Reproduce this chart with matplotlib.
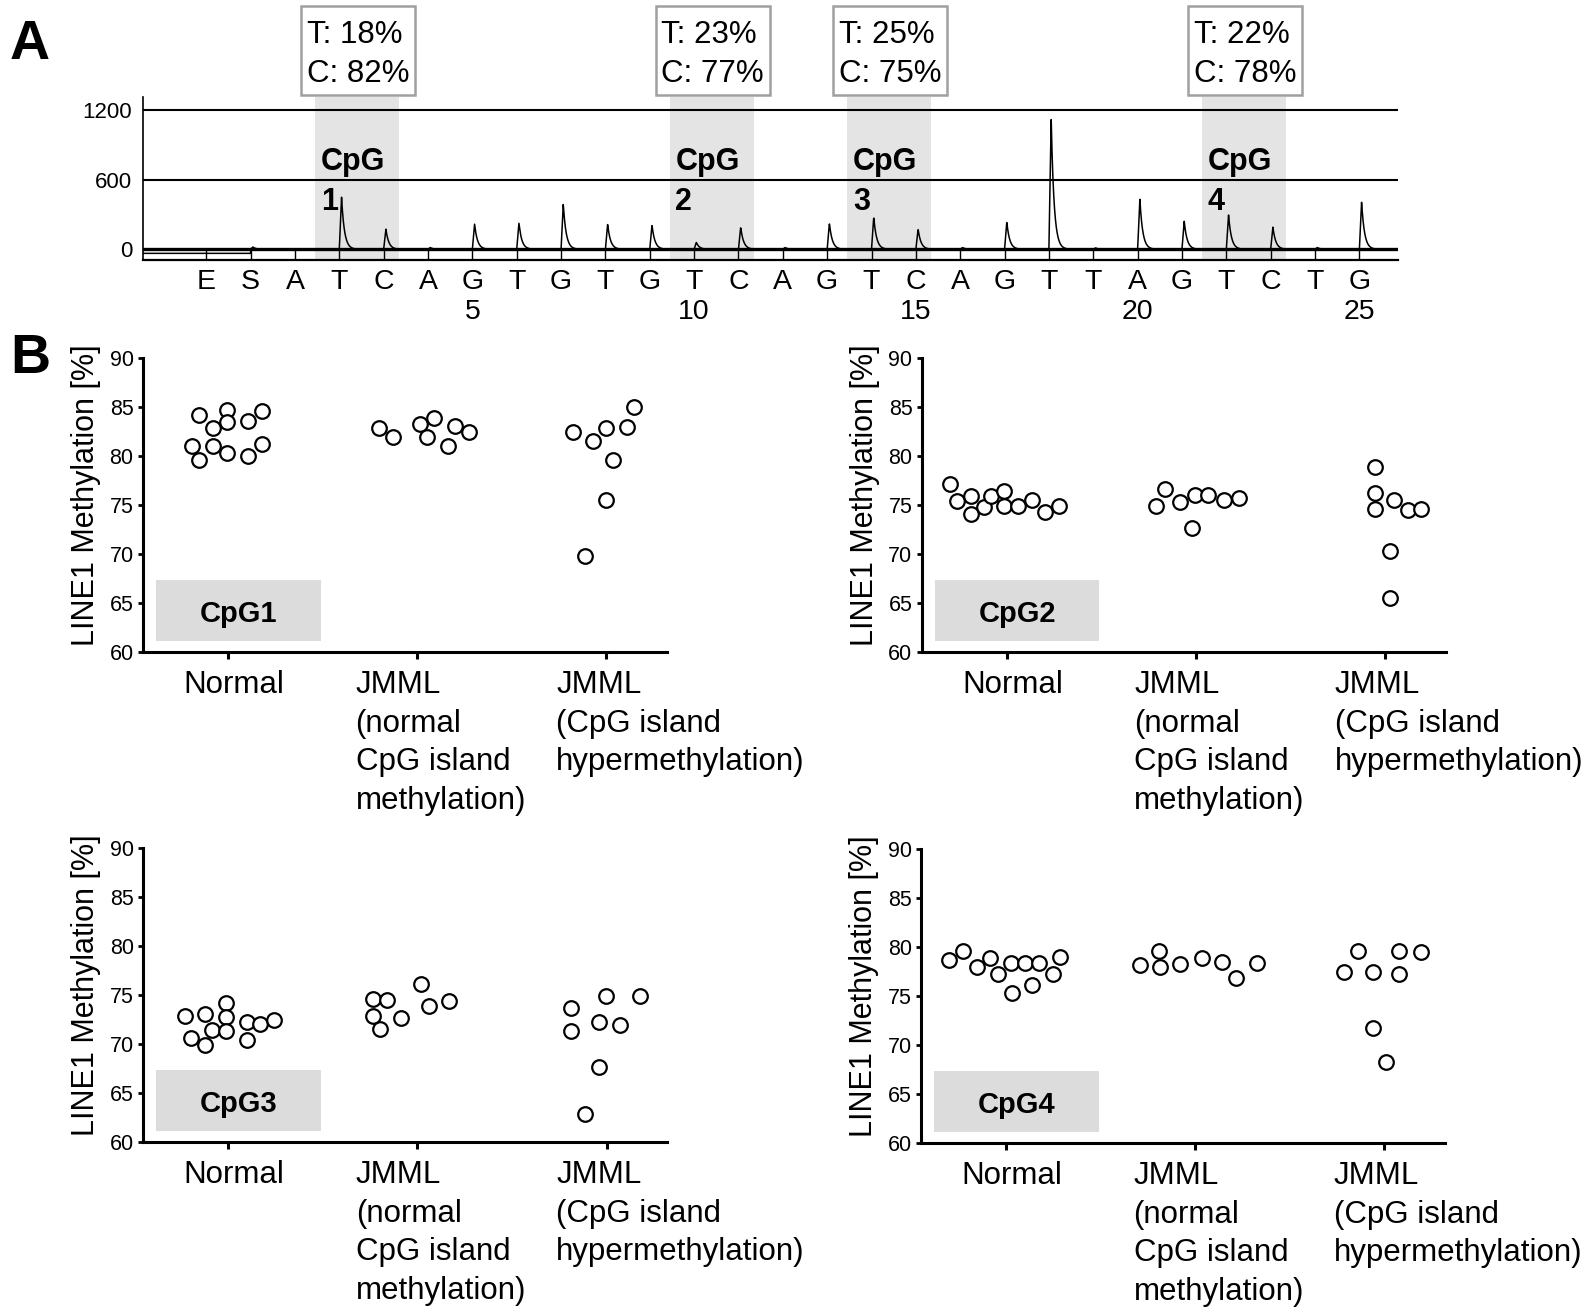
import numpy as np
import matplotlib
matplotlib.use('Agg')
import matplotlib.pyplot as plt
import matplotlib.transforms as mtransforms
from matplotlib.patches import Rectangle

plt.rcParams['font.family'] = ['Liberation Sans', 'DejaVu Sans']

# --- Panel A: pyrogram -------------------------------------------------
dispensation = ['E', 'S', 'A', 'T', 'C', 'A', 'G', 'T', 'G', 'T', 'G', 'T', 'C', 'A',
                'G', 'T', 'C', 'A', 'G', 'T', 'T', 'A', 'G', 'T', 'C', 'T', 'G']
disp_pos = list(range(-1, 26))
peak_heights = [0, 20, 0, 452, 174, 15, 217, 226, 391, 217, 209, 60, 191, 15,
                226, 278, 174, 15, 235, 1139, 12, 435, 243, 296, 191, 15, 409]
pre_start_level = -35
cpg_t_pos = [2, 10, 14, 22]
cpg_t_pct = [18, 23, 25, 22]
cpg_c_pct = [82, 77, 75, 78]

# --- Panel B: LINE1 methylation per CpG site ---------------------------
group_labels = ['Normal',
                'JMML\n(normal\nCpG island\nmethylation)',
                'JMML\n(CpG island\nhypermethylation)']
label_shift = [-0.235, -0.325, -0.266]

cpg1_values = [[84.2, 84.7, 84.6, 82.9, 83.5, 83.6, 81.1, 81.1, 81.3, 79.6, 80.3, 80.0],
               [82.9, 82.0, 83.3, 83.9, 82.0, 83.1, 82.5, 81.1],
               [82.5, 81.6, 82.9, 83.0, 85.0, 79.6, 75.5, 69.8]]
cpg1_jitter = [[-0.150, -0.003, 0.181, -0.078, -0.003, 0.104, -0.187, -0.078, 0.181, -0.150, -0.003, 0.104],
               [-0.202, -0.127, 0.016, 0.091, 0.054, 0.202, 0.275, 0.163],
               [-0.176, -0.073, 0.0, 0.109, 0.148, 0.034, 0.0, -0.111]]

cpg2_values = [[77.2, 75.4, 76.0, 74.1, 74.8, 76.0, 76.5, 74.9, 74.9, 75.5, 74.3, 74.9],
               [74.9, 76.7, 75.3, 76.1, 76.1, 75.5, 75.7, 72.7],
               [78.9, 76.3, 74.6, 75.5, 74.5, 74.6, 70.3, 65.5]]
cpg2_jitter = [[-0.301, -0.262, -0.190, -0.190, -0.121, -0.085, -0.013, -0.013, 0.059, 0.136, 0.203, 0.275],
               [-0.208, -0.165, -0.082, -0.005, 0.062, 0.149, 0.226, -0.021],
               [-0.054, -0.054, -0.054, 0.049, 0.121, 0.193, 0.028, 0.028]]

cpg3_values = [[72.9, 73.1, 74.2, 72.8, 72.3, 72.1, 72.5, 71.5, 71.4, 70.6, 69.9, 70.4],
               [74.6, 74.5, 76.1, 74.4, 73.9, 72.9, 72.7, 71.6],
               [73.7, 74.9, 74.9, 72.3, 72.0, 71.4, 67.7, 62.9]]
cpg3_jitter = [[-0.229, -0.123, -0.012, -0.012, 0.099, 0.171, 0.244, -0.084, -0.012, -0.193, -0.123, 0.099],
               [-0.233, -0.160, 0.020, 0.167, 0.062, -0.233, -0.085, -0.196],
               [-0.187, -0.001, 0.179, -0.040, 0.071, -0.187, -0.040, -0.113]]

cpg4_values = [[78.7, 79.6, 78.0, 78.9, 77.3, 78.4, 78.4, 78.4, 77.3, 79.0, 75.3, 76.2],
               [78.2, 79.6, 78.0, 78.3, 78.9, 78.5, 76.9, 78.4],
               [77.5, 79.6, 77.5, 79.6, 77.3, 79.5, 71.8, 68.3]]
cpg4_jitter = [[-0.298, -0.226, -0.153, -0.083, -0.044, 0.029, 0.101, 0.176, 0.249, 0.285, 0.034, 0.137],
               [-0.289, -0.193, -0.183, -0.077, 0.035, 0.144, 0.217, 0.328],
               [-0.210, -0.137, -0.060, 0.080, 0.080, 0.195, -0.060, 0.008]]

fig = plt.figure(figsize=(15.85, 13.11), dpi=100)

# ===================== Panel A =====================
axA = fig.add_axes([0.0904, 0.8017, 0.7916, 0.1243])
xmin, xmax = -2.42, 25.87
axA.set_xlim(xmin, xmax)
axA.set_ylim(-92, 1312)

# CpG shading
for p in cpg_t_pos:
    axA.axvspan(p - 0.55, p + 1.35, color='#e4e4e4', lw=0, zorder=0)

for lvl, lw in [(600, 1.5), (1200, 1.5), (0, 2.4)]:
    axA.axhline(lvl, color='black', lw=lw, zorder=2)

# pyrogram trace: each dispensation peak drawn as a sharp rise + decay
xs = np.linspace(xmin, xmax, 6000)
trace = np.where(xs < 0, pre_start_level, 0.0)
for p, h in zip(disp_pos, peak_heights):
    d = xs - p
    shape = np.where(d < 0, 0.0, np.where(d < 0.05, d / 0.05, np.exp(-(d - 0.05) / 0.065)))
    trace = trace + h * shape
axA.plot(xs, trace, color='black', lw=1.1, zorder=3)

for s in ['top', 'right']:
    axA.spines[s].set_visible(False)
axA.spines['left'].set_linewidth(1.2)
axA.spines['bottom'].set_linewidth(1.6)

axA.set_yticks([0, 600, 1200])
axA.tick_params(axis='y', length=0, pad=8, labelsize=16)
xt_labels = [f'{d}\n{p}' if (p > 0 and p % 5 == 0) else d for d, p in zip(dispensation, disp_pos)]
axA.set_xticks(disp_pos)
axA.set_xticklabels(xt_labels)
axA.tick_params(axis='x', direction='in', length=8, width=1.0, pad=6.5, labelsize=20.5)
for t in axA.get_xticklabels():
    t.set_linespacing(1.2)

transA = mtransforms.blended_transform_factory(axA.transData, axA.transAxes)
for i, (p, tp, cp) in enumerate(zip(cpg_t_pos, cpg_t_pct, cpg_c_pct)):
    axA.text(p - 0.42, 0.696, f'CpG\n{i + 1}', transform=transA, ha='left', va='top',
             fontsize=22, fontweight='bold', linespacing=1.46, zorder=4)
    axA.add_patch(Rectangle((p + 0.42 - 1.29, 1.012), 2.58, 0.546, transform=transA,
                            fc='white', ec='#a0a0a0', lw=1.8, clip_on=False, zorder=5))
    axA.text(p + 0.42, 1.262, f'T: {tp}%\nC: {cp}%', transform=transA, ha='center',
             va='center', multialignment='left', fontsize=22.5, linespacing=1.37,
             clip_on=False, zorder=6)

fig.text(10 / 1585, 1 - 59 / 1311, 'A', fontsize=40, fontweight='bold', va='baseline')
fig.text(10 / 1585, 1 - 373 / 1311, 'B', fontsize=40, fontweight='bold', va='baseline')

# ===================== Panel B =====================
axes_rects = [[0.0900, 0.5024, 0.3308, 0.2243],
              [0.5814, 0.5024, 0.3306, 0.2243],
              [0.0901, 0.1287, 0.3308, 0.2243],
              [0.5809, 0.1279, 0.3306, 0.2243]]
sites = [(cpg1_values, cpg1_jitter, 'CpG1'),
         (cpg2_values, cpg2_jitter, 'CpG2'),
         (cpg3_values, cpg3_jitter, 'CpG3'),
         (cpg4_values, cpg4_jitter, 'CpG4')]

for rect, (values, jitter, name) in zip(axes_rects, sites):
    ax = fig.add_axes(rect)
    ax.set_xlim(-0.45, 2.32)
    ax.set_ylim(60, 90)
    for s in ['top', 'right']:
        ax.spines[s].set_visible(False)
    for s in ['left', 'bottom']:
        ax.spines[s].set_linewidth(2.2)
    ax.set_yticks(range(60, 91, 5))
    ax.set_xticks([0, 1, 2])
    ax.set_xticklabels([])
    ax.tick_params(axis='y', length=3.5, width=2.0, pad=3, labelsize=15.5)
    ax.tick_params(axis='x', length=5, width=2.2)

    ax.add_patch(Rectangle((-0.38, 61.2), 0.87, 6.2, color='#dcdcdc', lw=0, zorder=1))
    ax.text(0.055, 63.9, name, ha='center', va='center', fontsize=21,
            fontweight='bold', zorder=2)

    for k, (vals, jit) in enumerate(zip(values, jitter)):
        ax.plot(np.array(jit) + k, vals, 'o', ls='none', ms=10.5, mfc='white',
                mec='black', mew=1.6, clip_on=False, zorder=3)

    trans = mtransforms.blended_transform_factory(ax.transData, ax.transAxes)
    for k, (lab, sh) in enumerate(zip(group_labels, label_shift)):
        ax.text(k + sh, -0.06, lab, transform=trans, ha='left', va='top',
                fontsize=22.5, linespacing=1.38)

    ax.text(-0.108, 0.533, 'LINE1 Methylation [%]', rotation=90, ha='center',
            va='center', transform=ax.transAxes, fontsize=22)

fig.savefig('out.png', dpi=100)
